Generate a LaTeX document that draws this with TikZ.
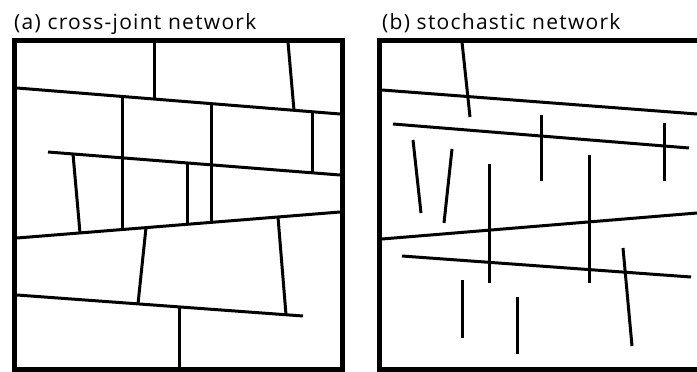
\documentclass[tikz,border=0pt]{standalone}
\usepackage{fontspec}
\setmainfont{Open Sans}[LetterSpace=6]
\begin{document}
\begin{tikzpicture}[x=1pt,y=-1pt,
  frame/.style={line width=5pt,line join=miter,line cap=butt},
  crack/.style={line width=3pt,line cap=butt},
  caption/.style={anchor=base west,inner sep=0pt,font=\fontsize{21}{24}\selectfont}]
\useasboundingbox (0,0) rectangle (697,372);

% (a) cross-joint network
\node[caption] (ta) at (14,29) {(a) cross-joint network};
\draw[frame] (14.5,40) rectangle (342.5,369.5);
% through-going fractures
\draw[crack] (17,88) -- (340,114);
\draw[crack] (48,152) -- (340,175);
\draw[crack] (17,238) -- (340,212);
\draw[crack] (17,295) -- (303,316);
% abutting cross joints
\draw[crack] (154,42) -- (154,99);
\draw[crack] (288,42) -- (294,110.3);
\draw[crack] (122,96.5) -- (122,229.5);
\draw[crack] (211,103.6) -- (211,222.4);
\draw[crack] (312,111.7) -- (312,172.8);
\draw[crack] (187,163) -- (187,224.3);
\draw[crack] (73,154) -- (80,232.9);
\draw[crack] (146,227.6) -- (138,303.9);
\draw[crack] (278,217) -- (286,314.7);
\draw[crack] (179,306.9) -- (179,367);

% (b) stochastic network
\node[caption] (tb) at (382,29) {(b) stochastic network};
\draw[frame] (697,40) -- (379,40) -- (379,369.5) -- (697,369.5);
% long fractures
\draw[crack] (382,90) -- (697,114);
\draw[crack] (393,124) -- (689,148);
\draw[crack] (382,239) -- (697,213);
\draw[crack] (402,256) -- (691,277);
% short random fractures
\draw[crack] (462,42) -- (470,117);
\draw[crack] (541,115) -- (541,181);
\draw[crack] (664,123) -- (664,181);
\draw[crack] (413,140) -- (421,213);
\draw[crack] (452,149) -- (444,223);
\draw[crack] (489,164) -- (489,283);
\draw[crack] (589,155) -- (589,283);
\draw[crack] (623,248) -- (632,346);
\draw[crack] (462,280) -- (462,338);
\draw[crack] (517,297) -- (517,354);
\end{tikzpicture}
\end{document}
